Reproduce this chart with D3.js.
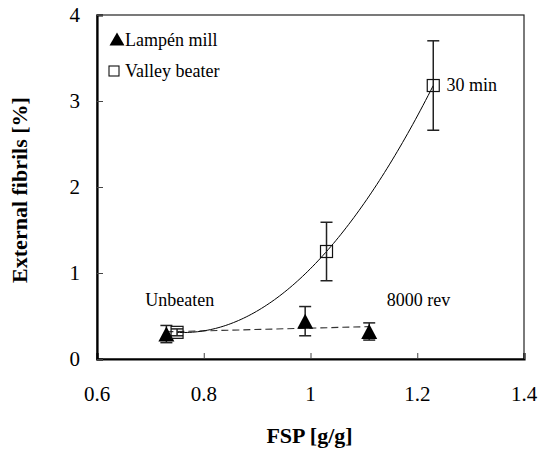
<!DOCTYPE html>
<html>
<head>
<meta charset="utf-8">
<script src="https://cdn.jsdelivr.net/npm/d3@7"></script>
<style>
  html, body { margin: 0; padding: 0; background: #fff; }
  svg { display: block; }
</style>
</head>
<body>
<svg id="chart" width="541" height="465"></svg>
<script>
// Lampén mill: FSP [g/g], external fibrils [%], error (±)
const millFSP = [0.73, 0.99, 1.11];
const millFibrils = [0.29, 0.44, 0.32];
const millErr = [0.10, 0.17, 0.10];

// Valley beater
const beaterFSP = [0.75, 1.03, 1.23];
const beaterFibrils = [0.31, 1.25, 3.18];
const beaterErr = [0.04, 0.34, 0.52];

const xTicks = [0.6, 0.8, 1.0, 1.2, 1.4];
const xTickLabels = ["0.6", "0.8", "1", "1.2", "1.4"];
const yTicks = [0, 1, 2, 3, 4];
const yTickLabels = ["0", "1", "2", "3", "4"];

const seriesNames = ["Lampén mill", "Valley beater"];
const annotations = [
  { text: "Unbeaten", fsp: 0.755, fib: 0.62, anchor: "middle" },
  { text: "8000 rev", fsp: 1.143, fib: 0.62, anchor: "start" },
  { text: "30 min", fsp: 1.255, fib: 3.12, anchor: "start" }
];

const FONT = "'Liberation Serif', 'Times New Roman', Times, 'DejaVu Serif', serif";

const svg = d3.select("#chart").attr("font-family", FONT);
const m = { left: 97, right: 524, top: 15, bottom: 359 };

const x = d3.scaleLinear().domain([0.6, 1.4]).range([m.left, m.right]);
const y = d3.scaleLinear().domain([0, 4]).range([m.bottom, m.top]);

// frame (top and right edges thin)
svg.append("rect")
  .attr("x", m.left).attr("y", m.top)
  .attr("width", m.right - m.left).attr("height", m.bottom - m.top)
  .attr("fill", "none").attr("stroke", "#222").attr("stroke-width", 1.2);

// axes with inward ticks
const xAxis = svg.append("g").attr("transform", `translate(0,${m.bottom})`)
  .call(d3.axisBottom(x).tickValues(xTicks).tickSize(-6).tickFormat(""));
const yAxis = svg.append("g").attr("transform", `translate(${m.left},0)`)
  .call(d3.axisLeft(y).tickValues(yTicks).tickSize(-6).tickFormat(""));
[xAxis, yAxis].forEach(g => {
  g.select(".domain").attr("stroke", "#000").attr("stroke-width", 2.2);
  g.selectAll(".tick line").attr("stroke", "#444").attr("stroke-width", 1);
});

function label(sel) {
  return sel.attr("font-family", FONT).attr("fill", "#000");
}

// tick labels
svg.append("g").selectAll("text").data(xTicks).join("text")
  .call(label)
  .attr("x", d => x(d)).attr("y", m.bottom + 42)
  .attr("text-anchor", "middle").attr("font-size", 21)
  .text((d, i) => xTickLabels[i]);
svg.append("g").selectAll("text").data(yTicks).join("text")
  .call(label)
  .attr("x", m.left - 17).attr("y", d => y(d) + 7)
  .attr("text-anchor", "end").attr("font-size", 21)
  .text((d, i) => yTickLabels[i]);

// axis titles
svg.append("text").call(label)
  .attr("x", (m.left + m.right) / 2 - 1).attr("y", 443)
  .attr("text-anchor", "middle").attr("font-size", 22).attr("font-weight", "bold")
  .text("FSP [g/g]");
svg.append("text").call(label)
  .attr("transform", `translate(27,${(m.top + m.bottom) / 2 + 3}) rotate(-90)`)
  .attr("text-anchor", "middle").attr("font-size", 22).attr("font-weight", "bold")
  .text("External fibrils [%]");

// least-squares polynomial fit
function polyFit(xs, ys, deg) {
  const n = deg + 1;
  const A = Array.from({ length: n }, () => new Array(n + 1).fill(0));
  for (let r = 0; r < n; r++) {
    for (let c = 0; c < n; c++) A[r][c] = d3.sum(xs, v => Math.pow(v, r + c));
    A[r][n] = d3.sum(xs, (v, i) => ys[i] * Math.pow(v, r));
  }
  for (let i = 0; i < n; i++) {
    let p = i;
    for (let k = i + 1; k < n; k++) if (Math.abs(A[k][i]) > Math.abs(A[p][i])) p = k;
    [A[i], A[p]] = [A[p], A[i]];
    for (let k = i + 1; k < n; k++) {
      const f = A[k][i] / A[i][i];
      for (let j = i; j <= n; j++) A[k][j] -= f * A[i][j];
    }
  }
  const c = new Array(n).fill(0);
  for (let i = n - 1; i >= 0; i--) {
    let s = A[i][n];
    for (let j = i + 1; j < n; j++) s -= A[i][j] * c[j];
    c[i] = s / A[i][i];
  }
  return v => c.reduce((acc, ci, i) => acc + ci * Math.pow(v, i), 0);
}

const line = d3.line().x(d => x(d[0])).y(d => y(d[1]));

// trend line for the mill series (linear, dashed)
const millFit = polyFit(millFSP, millFibrils, 1);
const millExt = d3.extent(millFSP);
svg.append("path")
  .attr("d", line(millExt.map(v => [v, millFit(v)])))
  .attr("fill", "none").attr("stroke", "#333").attr("stroke-width", 1.1)
  .attr("stroke-dasharray", "7,4");

// trend curve for the beater series (quadratic, solid)
const beaterFit = polyFit(beaterFSP, beaterFibrils, 2);
const bExt = d3.extent(beaterFSP);
const curvePts = d3.range(0, 101).map(i => {
  const v = bExt[0] + (bExt[1] - bExt[0]) * i / 100;
  return [v, beaterFit(v)];
});
svg.append("path")
  .attr("d", line(curvePts))
  .attr("fill", "none").attr("stroke", "#000").attr("stroke-width", 1);

// error bars
function errorBars(xs, ys, es) {
  const g = svg.append("g").attr("stroke", "#222").attr("stroke-width", 1.5);
  xs.forEach((v, i) => {
    const cx = x(v), y1 = y(ys[i] + es[i]), y0 = y(ys[i] - es[i]);
    g.append("line").attr("x1", cx).attr("x2", cx).attr("y1", y1).attr("y2", y0);
    g.append("line").attr("x1", cx - 6).attr("x2", cx + 6).attr("y1", y1).attr("y2", y1);
    g.append("line").attr("x1", cx - 6).attr("x2", cx + 6).attr("y1", y0).attr("y2", y0);
  });
}
errorBars(millFSP, millFibrils, millErr);
errorBars(beaterFSP, beaterFibrils, beaterErr);

function triPath(cx, cy, w, h) {
  return `M${cx},${cy - h / 2}L${cx + w / 2},${cy + h / 2}L${cx - w / 2},${cy + h / 2}Z`;
}

// markers
svg.append("g").selectAll("path").data(millFSP).join("path")
  .attr("d", (d, i) => triPath(x(d), y(millFibrils[i]), 16, 15))
  .attr("fill", "#000");
svg.append("g").selectAll("rect").data(beaterFSP).join("rect")
  .attr("x", d => x(d) - 6).attr("y", (d, i) => y(beaterFibrils[i]) - 6)
  .attr("width", 12).attr("height", 12)
  .attr("fill", "none").attr("stroke", "#111").attr("stroke-width", 1.2);

// annotations
svg.append("g").selectAll("text").data(annotations).join("text")
  .call(label)
  .attr("x", d => x(d.fsp)).attr("y", d => y(d.fib))
  .attr("text-anchor", d => d.anchor).attr("font-size", 18)
  .text(d => d.text);

// legend
const lg = svg.append("g");
lg.append("path").attr("d", triPath(117, 39, 15, 13)).attr("fill", "#000");
lg.append("rect").attr("x", 109).attr("y", 66).attr("width", 10).attr("height", 10)
  .attr("fill", "none").attr("stroke", "#111").attr("stroke-width", 1.1);
lg.append("text").call(label).attr("x", 125).attr("y", 46).attr("font-size", 18).text(seriesNames[0]);
lg.append("text").call(label).attr("x", 125).attr("y", 77).attr("font-size", 18).text(seriesNames[1]);
</script>
</body>
</html>
